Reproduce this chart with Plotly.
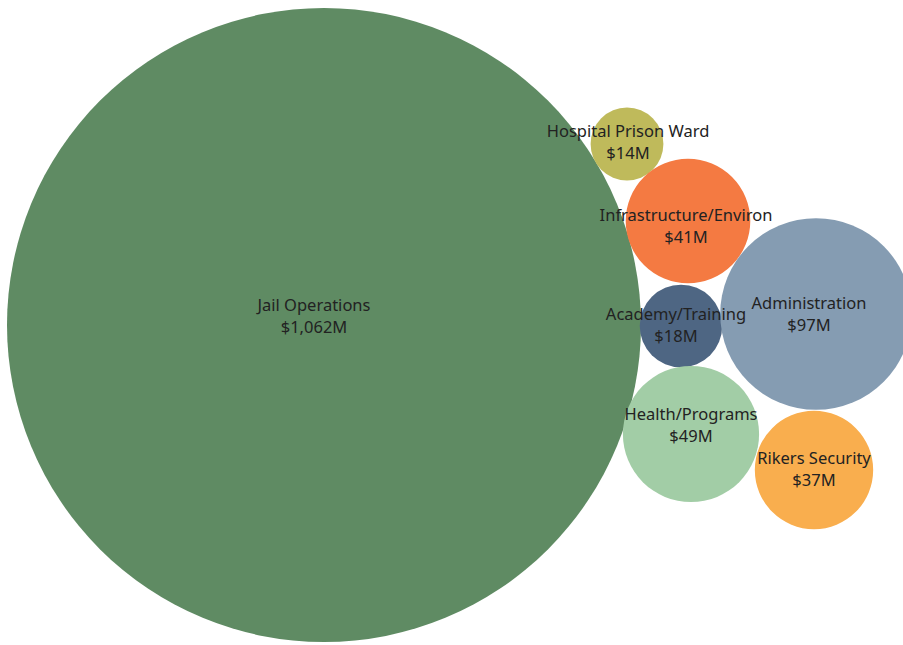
import math
import plotly.graph_objects as go

# ---- data ----
categories = ["Jail Operations", "Hospital Prison Ward", "Infrastructure/Environ",
              "Academy/Training", "Administration", "Health/Programs", "Rikers Security"]
values = [1062, 14, 41, 18, 97, 49, 37]          # $M
value_labels = ["$1,062M", "$14M", "$41M", "$18M", "$97M", "$49M", "$37M"]

# ---- layout of packed bubbles (pixel-like plot units) ----
centers_x = [324, 627, 688, 681, 816, 691, 814]
centers_y = [325, 144, 221, 326, 314, 434, 470]
label_dx = [-10, 1, -2, -5, -7, 0, 0]
label_dy = [-7, 0, 7, 1, 2, -7, 1]
colors = ["#5f8b63", "#bfba5b", "#f47a42", "#4e6683", "#859cb2", "#a2cda6", "#f9ae4e"]

K = 317 / math.sqrt(max(values))

fig = go.Figure()
shapes = []
for cx, cy, v, col in zip(centers_x, centers_y, values, colors):
    r = K * math.sqrt(v)
    shapes.append(dict(type="circle", xref="x", yref="y",
                       x0=cx - r, x1=cx + r, y0=cy - r, y1=cy + r,
                       fillcolor=col, line=dict(width=0), layer="below"))

fig.add_trace(go.Scatter(
    x=[cx + d for cx, d in zip(centers_x, label_dx)],
    y=[cy + d for cy, d in zip(centers_y, label_dy)],
    mode="text",
    text=[f"{c}<br>{v}" for c, v in zip(categories, value_labels)],
    textposition="middle center",
    textfont=dict(family="Noto Sans", size=16.5, color="#222222"),
    hoverinfo="skip", showlegend=False))

fig.update_layout(
    width=903, height=645,
    margin=dict(l=0, r=0, t=0, b=0),
    paper_bgcolor="white", plot_bgcolor="white",
    shapes=shapes,
    xaxis=dict(range=[0, 903], visible=False, fixedrange=True),
    yaxis=dict(range=[645, 0], visible=False, fixedrange=True),
    showlegend=False,
)

fig.write_html("out.html")
